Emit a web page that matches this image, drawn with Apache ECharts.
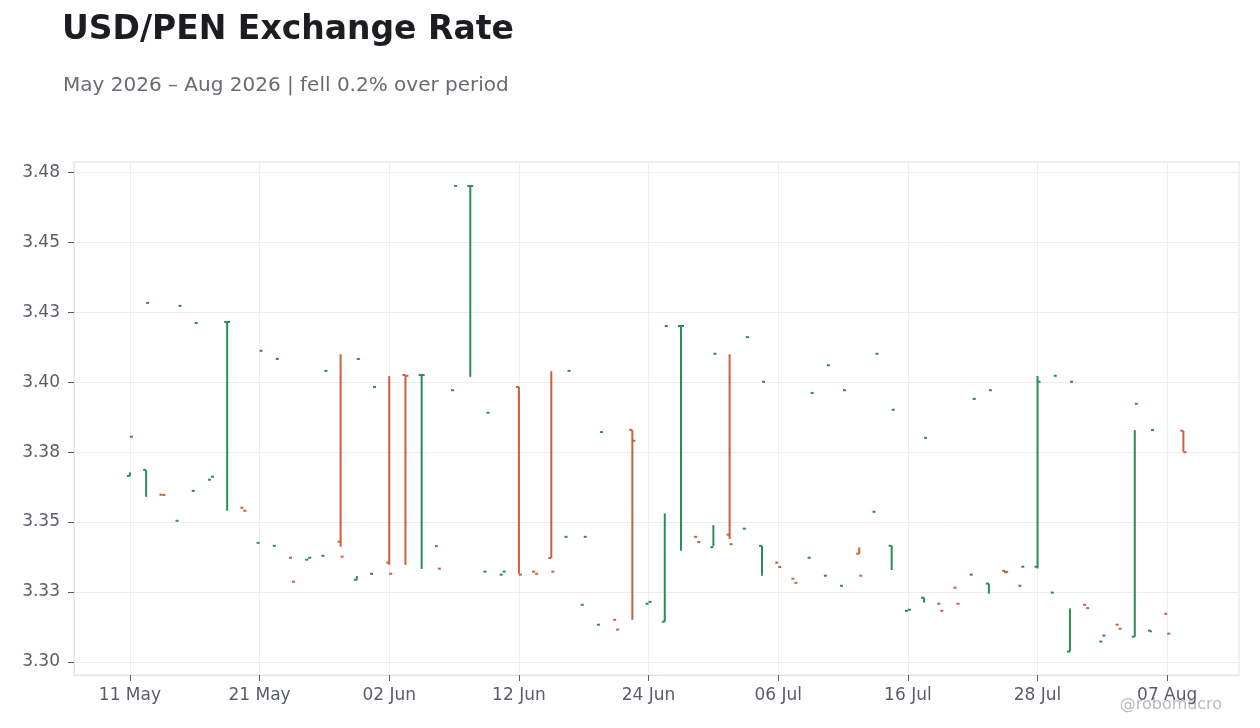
<!DOCTYPE html>
<html>
<head>
<meta charset="utf-8">
<title>USD/PEN Exchange Rate</title>
<script src="https://cdn.jsdelivr.net/npm/echarts@6/dist/echarts.min.js"></script>
<style>
  html, body { margin: 0; padding: 0; background: #fff; }
  #rate_chart { width: 1260px; height: 728px; }
</style>
</head>
<body>
<div id="rate_chart"></div>
<script>
// trading days (weekends skipped), one OHLC bar per day
var dates = ['11 May','12 May','13 May','14 May','15 May','18 May','19 May','20 May','21 May','22 May',
  '25 May','26 May','27 May','28 May','29 May','01 Jun','02 Jun','03 Jun','04 Jun','05 Jun',
  '08 Jun','09 Jun','10 Jun','11 Jun','12 Jun','15 Jun','16 Jun','17 Jun','18 Jun','19 Jun',
  '22 Jun','23 Jun','24 Jun','25 Jun','26 Jun','29 Jun','30 Jun','01 Jul','02 Jul','03 Jul',
  '06 Jul','07 Jul','08 Jul','09 Jul','10 Jul','13 Jul','14 Jul','15 Jul','16 Jul','17 Jul',
  '20 Jul','21 Jul','22 Jul','23 Jul','24 Jul','27 Jul','28 Jul','29 Jul','30 Jul','31 Jul',
  '03 Aug','04 Aug','05 Aug','06 Aug','07 Aug','10 Aug'];

var openVals = [3.3684,3.3706,3.3615,3.3519,3.3629,3.3670,3.4250,3.3567,3.3438,3.3427,
  3.3383,3.3376,3.3390,3.3442,3.3302,3.3324,3.3365,3.4055,3.4055,3.3426,
  3.3999,3.4750,3.3332,3.3321,3.4011,3.3332,3.3382,3.3460,3.3210,3.3137,
  3.3155,3.3853,3.3214,3.3148,3.4235,3.3460,3.3422,3.3468,3.3490,3.3427,
  3.3365,3.3306,3.3383,3.3317,3.3280,3.3398,3.3552,3.3427,3.3188,3.3236,
  3.3214,3.3273,3.3321,3.3288,3.3335,3.3280,3.3350,3.3255,3.3038,3.3210,
  3.3075,3.3137,3.3093,3.3115,3.3177,3.3850];

var closeVals = [3.3828,3.4320,3.3614,3.4309,3.4246,3.3681,3.4250,3.3556,3.4144,3.4114,
  3.3295,3.3383,3.4070,3.3387,3.4114,3.4011,3.3324,3.4052,3.4055,3.3343,
  3.4750,3.4750,3.3916,3.3332,3.3321,3.3324,3.3332,3.4070,3.3460,3.3845,
  3.3119,3.3813,3.3221,3.4235,3.4235,3.3441,3.4133,3.3433,3.4194,3.4030,
  3.3349,3.3291,3.3989,3.4091,3.3999,3.3317,3.4133,3.3927,3.3192,3.3824,
  3.3188,3.3214,3.3967,3.3999,3.3331,3.3350,3.4030,3.4052,3.4030,3.3198,
  3.3097,3.3122,3.3949,3.3853,3.3104,3.3771];

var lowVals = [3.3684,3.3607,3.3615,3.3519,3.3629,3.3670,3.3556,3.3567,3.3438,3.3427,
  3.3383,3.3376,3.3390,3.3424,3.3302,3.3324,3.3357,3.3357,3.3342,3.3426,
  3.3999,3.4048,3.3332,3.3321,3.3324,3.3332,3.3382,3.3460,3.3210,3.3137,
  3.3155,3.3155,3.3214,3.3148,3.3409,3.3460,3.3426,3.3452,3.3490,3.3317,
  3.3365,3.3306,3.3383,3.3317,3.3280,3.3398,3.3552,3.3338,3.3188,3.3218,
  3.3214,3.3273,3.3321,3.3251,3.3326,3.3280,3.3344,3.3255,3.3038,3.3210,
  3.3075,3.3137,3.3093,3.3109,3.3177,3.3773];

var highVals = [3.3697,3.3705,3.3615,3.3519,3.3629,3.3670,3.4250,3.3567,3.3438,3.3427,
  3.3383,3.3376,3.3390,3.4131,3.3316,3.3324,3.4051,3.4054,3.4055,3.3426,
  3.3999,3.4750,3.3332,3.3321,3.4011,3.3332,3.4069,3.3460,3.3210,3.3137,
  3.3155,3.3852,3.3214,3.3546,3.4235,3.3460,3.3503,3.4131,3.3490,3.3427,
  3.3365,3.3306,3.3383,3.3317,3.3280,3.3421,3.3552,3.3427,3.3188,3.3236,
  3.3214,3.3273,3.3321,3.3288,3.3335,3.3280,3.4051,3.3255,3.3197,3.3210,
  3.3075,3.3137,3.3852,3.3115,3.3177,3.3849];

// axis ticks
var xTickIdx = [0, 8, 16, 24, 32, 40, 48, 56, 64];
var yTicks = [3.30, 3.325714, 3.351429, 3.377143, 3.402857, 3.428571, 3.454286, 3.48];

var upColor = '#2e8b57';
var downColor = '#c8603e';

initRateChart();

//组装数据
function buildRows() {
  var rows = [];
  for (var i = 0; i < dates.length; i++) {
    rows.push([i, openVals[i], closeVals[i], lowVals[i], highVals[i]]);
  }
  return rows;
}

//画 OHLC 竖线 + 左右短横
function renderOhlc(params, api) {
  var idx = api.value(0);
  var pOpen = api.coord([idx, api.value(1)]);
  var pClose = api.coord([idx, api.value(2)]);
  var pLow = api.coord([idx, api.value(3)]);
  var pHigh = api.coord([idx, api.value(4)]);
  var color = api.value(2) >= api.value(1) ? upColor : downColor;
  var cx = pOpen[0];
  var tick = 3;
  var style = { stroke: color, lineWidth: 2, lineCap: 'butt' };
  return {
    type: 'group',
    children: [{
      type: 'line',
      shape: { x1: cx, y1: pLow[1], x2: cx, y2: pHigh[1] },
      style: style
    }, {
      type: 'line',
      shape: { x1: cx - tick, y1: pOpen[1], x2: cx, y2: pOpen[1] },
      style: style
    }, {
      type: 'line',
      shape: { x1: cx, y1: pClose[1], x2: cx + tick, y2: pClose[1] },
      style: style
    }]
  };
}

function initRateChart() {
  var chart = echarts.init(document.getElementById('rate_chart'), null, { renderer: 'canvas' });
  var font = 'DejaVu Sans, sans-serif';
  var option = {
    backgroundColor: '#ffffff',
    animation: false,
    title: [{
      text: 'USD/PEN Exchange Rate',
      left: 62,
      top: 14,
      padding: 0,
      textStyle: { fontFamily: font, fontSize: 33, fontWeight: 'bold', color: '#1c1c22' }
    }, {
      text: 'May 2026 \u2013 Aug 2026 | fell 0.2% over period',
      left: 63,
      top: 76,
      padding: 0,
      textStyle: { fontFamily: font, fontSize: 20, fontWeight: 'normal', color: '#6a6a74' }
    }],
    graphic: [{
      type: 'text',
      right: 38,
      top: 697,
      style: { text: '@robomacro', font: '16px DejaVu Sans, sans-serif', fill: '#b9b9bd' }
    }],
    grid: {
      left: 74,
      right: 21,
      top: 162,
      bottom: 53,
      show: true,
      borderColor: '#e2e2e2',
      borderWidth: 1
    },
    xAxis: {
      type: 'value',
      min: -3.45,
      max: 68.43,
      axisLine: { show: true, onZero: false, lineStyle: { color: '#e2e2e2' } },
      axisTick: {
        show: true,
        customValues: xTickIdx,
        length: 6,
        lineStyle: { color: '#555a63' }
      },
      axisLabel: {
        customValues: xTickIdx,
        margin: 12,
        fontFamily: font,
        fontSize: 17,
        color: '#595d68',
        formatter: function (v) {
          return dates[Math.round(v)];
        }
      },
      splitLine: { show: true, lineStyle: { color: '#ededed' } }
    },
    yAxis: {
      type: 'value',
      min: 3.2952,
      max: 3.4838,
      axisLine: { show: true, onZero: false, lineStyle: { color: '#e2e2e2' } },
      axisTick: {
        show: true,
        customValues: yTicks,
        length: 6,
        lineStyle: { color: '#555a63' }
      },
      axisLabel: {
        customValues: yTicks,
        margin: 14,
        fontFamily: font,
        fontSize: 17,
        color: '#595d68',
        formatter: function (v) {
          return v.toFixed(2);
        }
      },
      splitLine: { show: true, lineStyle: { color: '#ededed' } }
    },
    series: [{
      name: 'USD/PEN',
      type: 'custom',
      renderItem: renderOhlc,
      encode: { x: 0, y: [1, 2, 3, 4] },
      data: buildRows(),
      clip: true
    }]
  };
  chart.setOption(option);
}
</script>
</body>
</html>
